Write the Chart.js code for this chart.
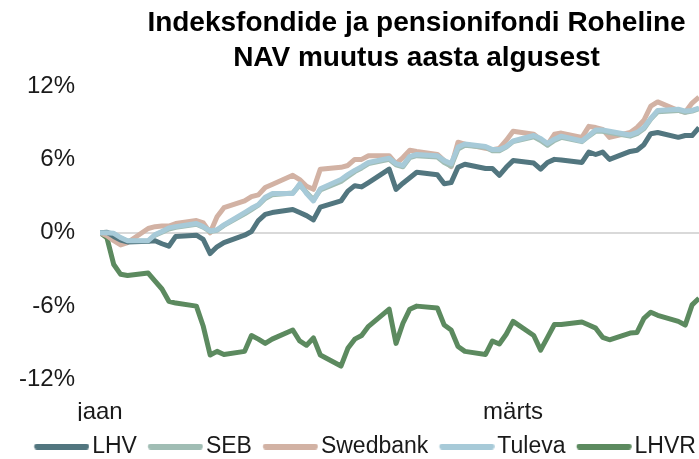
<!DOCTYPE html>
<html>
<head>
<meta charset="utf-8">
<script src="https://cdn.jsdelivr.net/npm/chart.js@4.4.1/dist/chart.umd.min.js"></script>
<style>
  html, body { margin: 0; padding: 0; background: #fff; overflow: hidden; }
  #wrap { width: 699px; height: 459px; overflow: hidden; }
</style>
</head>
<body>
<div id="wrap"><canvas id="chart" width="733" height="459"></canvas></div>
<script>
// trading days, 2024 (first point = start of year)
var dates = [
  '2024-01-01', '2024-01-02', '2024-01-03', '2024-01-04', '2024-01-05',
  '2024-01-08', '2024-01-09', '2024-01-10', '2024-01-11', '2024-01-12',
  '2024-01-15', '2024-01-16', '2024-01-17', '2024-01-18', '2024-01-19',
  '2024-01-22', '2024-01-23', '2024-01-24', '2024-01-25', '2024-01-26',
  '2024-01-29', '2024-01-30', '2024-01-31', '2024-02-01', '2024-02-02',
  '2024-02-05', '2024-02-06', '2024-02-07', '2024-02-08', '2024-02-09',
  '2024-02-12', '2024-02-13', '2024-02-14', '2024-02-15', '2024-02-16',
  '2024-02-19', '2024-02-20', '2024-02-21', '2024-02-22', '2024-02-23',
  '2024-02-26', '2024-02-27', '2024-02-28', '2024-02-29', '2024-03-01',
  '2024-03-04', '2024-03-05', '2024-03-06', '2024-03-07', '2024-03-08',
  '2024-03-11', '2024-03-12', '2024-03-13', '2024-03-14', '2024-03-15',
  '2024-03-18', '2024-03-19', '2024-03-20', '2024-03-21', '2024-03-22',
  '2024-03-25', '2024-03-26', '2024-03-27', '2024-03-28'
];

var lhv = [
  0, 0.05, -0.3, -0.6, -0.75,
  -0.7, -0.65, -0.9, -1.1, -0.3,
  -0.2, -0.55, -1.7, -1.15, -0.8,
  -0.2, 0.1, 1.0, 1.5, 1.65,
  1.9, 1.65, 1.4, 1.05, 2.1,
  2.6, 3.4, 3.85, 3.75, 4.1,
  5.2, 3.55, 4.05, 4.5, 4.95,
  4.75, 4.0, 4.1, 5.35, 5.6,
  5.25, 5.25, 4.7, 5.35, 5.9,
  5.7, 5.2, 5.75, 6.0, 5.95,
  5.75, 6.6, 6.4, 6.6, 6.0,
  6.65, 6.75, 7.2, 8.1, 8.2,
  7.8, 7.95, 7.95, 8.6
];
var seb = [
  0, 0, -0.1, -0.45, -0.7,
  -0.7, -0.2, 0.05, 0.3, 0.45,
  0.7, 0.45, 0.1, 0.2, 0.6,
  1.55, 1.9, 2.25, 2.8, 3.1,
  3.25, 3.9, 3.3, 2.7, 3.5,
  4.2, 4.6, 5.0, 5.3, 5.65,
  6.0, 5.55, 5.4, 6.15, 6.3,
  6.2, 5.75, 5.45, 6.85, 7.15,
  7.0, 6.7, 6.7, 7.0, 7.45,
  7.85, 7.55, 7.15, 7.55, 7.8,
  7.45, 7.9, 8.3, 8.3, 8.2,
  7.9, 8.1, 8.5, 9.3, 9.9,
  10.0, 9.85, 9.95, 10.15
];
var swedbank = [
  0, -0.25, -0.65, -1.0, -0.8,
  0.35, 0.5, 0.55, 0.55, 0.75,
  1.0, 0.8, 0.0, 1.3, 2.05,
  2.6, 2.95, 3.1, 3.7, 3.95,
  4.7, 4.35, 3.8, 3.55, 5.2,
  5.35, 5.5, 6.0, 6.0, 6.3,
  6.3, 5.65, 6.15, 6.75, 6.65,
  6.4, 5.9, 5.4, 7.4, 7.25,
  6.9, 6.8, 6.9, 7.55, 8.3,
  8.05, 7.6, 7.2, 8.05, 8.15,
  7.8, 8.7, 8.6, 8.45, 7.8,
  8.2, 8.6, 9.2, 10.35, 10.7,
  10.0, 9.85, 10.6, 11.1
];
var tuleva = [
  0, 0, -0.05, -0.4, -0.65,
  -0.65, -0.15, 0.1, 0.4, 0.5,
  0.75, 0.5, 0.15, 0.25, 0.65,
  1.65, 2.0, 2.3, 2.9, 3.2,
  3.2, 4.0, 3.2, 2.6, 3.6,
  4.35, 4.75, 5.1, 5.4, 5.75,
  6.1, 5.65, 5.5, 6.25, 6.4,
  6.3, 5.9, 5.65, 7.0, 7.25,
  7.05, 6.8, 6.8, 7.05, 7.5,
  7.95, 7.7, 7.3, 7.65, 7.9,
  7.5, 7.95, 8.4, 8.4, 8.3,
  8.0, 8.2, 8.6, 9.35, 10.0,
  10.1, 9.95, 10.0, 10.2
];
var lhvr = [
  0, -0.4, -2.6, -3.4, -3.5,
  -3.3, -3.95, -4.6, -5.6, -5.75,
  -6.0, -7.65, -10.0, -9.7, -9.95,
  -9.7, -8.4, -8.7, -9.05, -8.7,
  -7.95, -8.85, -9.2, -8.6, -10.0,
  -10.9, -9.45, -8.7, -8.4, -7.65,
  -6.25, -9.05, -7.4, -6.25, -6.0,
  -6.15, -7.55, -7.95, -9.3, -9.7,
  -9.95, -8.85, -9.1, -8.3, -7.25,
  -8.4, -9.6, -8.55, -7.5, -7.5,
  -7.3, -7.55, -7.8, -8.55, -8.75,
  -8.2, -8.15, -7.0, -6.5, -6.75,
  -7.25, -7.55, -5.9, -5.35
];

var seriesNames = ['LHV', 'SEB', 'Swedbank', 'Tuleva', 'LHVR'];
var seriesColors = ['#52767f', '#a0bdb4', '#d2b2a4', '#a7cad8', '#5c8a5f'];
var seriesOrder = [1, 2, 3, 0, 4]; // Tuleva on top
var monthDays = [0, 60];
var monthLabels = ['jaan', 'märts'];
var titleLines = ['Indeksfondide ja pensionifondi Roheline', 'NAV muutus aasta algusest'];

var family = "'Liberation Sans', Arial, Helvetica, sans-serif";
var textColor = '#1a1a1a';

var start = Date.parse('2024-01-01');
var dayIndex = dates.map(function (d) {
  return Math.round((Date.parse(d) - start) / 86400000);
});

function toPoints(values) {
  return values.map(function (v, i) {
    return { x: dayIndex[i], y: v };
  });
}

// legend marker: short thick line with round ends, a bit off-centre in its box
function makeSwatch(color) {
  var c = document.createElement('canvas');
  c.width = 61;
  c.height = 6;
  var g = c.getContext('2d');
  g.strokeStyle = color;
  g.lineWidth = 6;
  g.lineCap = 'round';
  g.beginPath();
  g.moveTo(8.75, 3);
  g.lineTo(57.75, 3);
  g.stroke();
  return c;
}
var swatches = seriesColors.map(makeSwatch);

var allSeries = [lhv, seb, swedbank, tuleva, lhvr];
var datasets = allSeries.map(function (values, i) {
  return {
    label: seriesNames[i],
    data: toPoints(values),
    borderColor: seriesColors[i],
    backgroundColor: seriesColors[i],
    borderWidth: 5,
    borderJoinStyle: 'round',
    pointRadius: 0,
    pointHoverRadius: 0,
    tension: 0,
    order: seriesOrder[i]
  };
});

var ctx = document.getElementById('chart').getContext('2d');
var chart = new Chart(ctx, {
  type: 'line',
  data: { datasets: datasets },
  options: {
    responsive: false,
    animation: false,
    events: [],
    layout: { padding: { bottom: -9 } },
    scales: {
      x: {
        type: 'linear',
        min: 0,
        max: 91.94,
        grid: { display: false },
        border: { display: false },
        afterBuildTicks: function (scale) {
          scale.ticks = monthDays.map(function (d) { return { value: d }; });
        },
        ticks: {
          autoSkip: false,
          maxRotation: 0,
          padding: 10,
          color: textColor,
          font: { family: family, size: 24 },
          callback: function (value) {
            return monthLabels[monthDays.indexOf(value)];
          }
        },
        afterFit: function (scale) { scale.height = 41.5; }
      },
      y: {
        min: -12,
        max: 12,
        border: { display: false },
        grid: {
          drawTicks: false,
          lineWidth: 2,
          color: function (c) {
            return c.tick && c.tick.value === 0 ? '#d9d9d9' : 'rgba(0,0,0,0)';
          }
        },
        ticks: {
          stepSize: 6,
          padding: 25,
          color: textColor,
          font: { family: family, size: 24 },
          callback: function (value) { return value + '%'; }
        },
        afterFit: function (scale) { scale.width = 100; }
      }
    },
    plugins: {
      tooltip: { enabled: false },
      title: {
        display: true,
        text: titleLines,
        fullSize: false,
        color: '#000',
        font: { family: family, size: 28, weight: 'bold', lineHeight: 1.25 },
        padding: { top: 6, bottom: 10 }
      },
      legend: {
        position: 'bottom',
        align: 'center',
        labels: {
          usePointStyle: true,
          pointStyleWidth: 43.5,
          boxHeight: 6,
          padding: 14,
          color: textColor,
          font: { family: family, size: 23 },
          sort: function (a, b) { return a.datasetIndex - b.datasetIndex; },
          generateLabels: function (chart) {
            var items = Chart.defaults.plugins.legend.labels.generateLabels(chart);
            items.forEach(function (item) {
              item.pointStyle = swatches[item.datasetIndex];
            });
            return items;
          }
        }
      }
    }
  }
});
</script>
</body>
</html>
